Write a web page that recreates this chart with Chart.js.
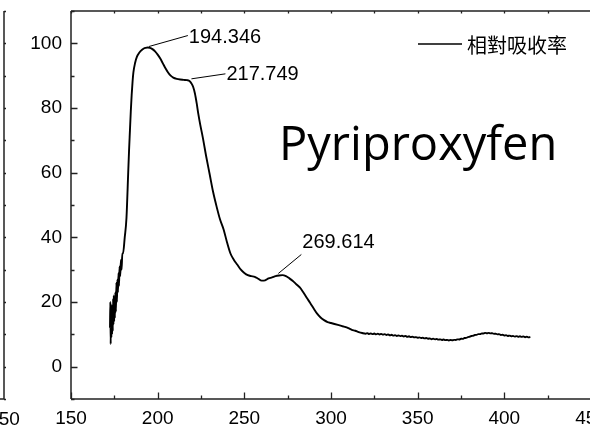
<!DOCTYPE html>
<html>
<head>
<meta charset="utf-8">
<script src="https://cdn.jsdelivr.net/npm/chart.js@4.4.1/dist/chart.umd.min.js"></script>
<style>
  html, body { margin: 0; padding: 0; background: #fff; overflow: hidden; width: 590px; height: 426px; }
  canvas { display: block; }
</style>
</head>
<body>
<canvas id="c" width="620" height="426"></canvas>
<script>
// ---- data ----
const seriesLabel = '相對吸收率';
const chartTitle = 'Pyriproxyfen';
const wavelengths = [
  172.5,172.7,172.9,173.1,173.3,173.5,173.7,173.9,174.1,174.3,174.5,174.7,174.9,175.1,175.3,175.6,175.9,176.2,176.5,176.8,177.1,177.4,177.7,178.0,178.4,178.8,179.2,179.6,
  180,181,182,183,183.5,184,184.5,185,185.5,186,187,188,189,190,191,192,193,194.3,195.5,197,198.5,200,201.5,203,204.5,206,207.5,209,211,213,215,217,218.5,219.5,220.5,221.5,222.5,223.5,224.5,226,228,230,232,234,236,238,240,242,244,246,248,250,252,254,256,258,260,262,264,266,268,270,272,274,276,278,280,282,284,286,288,290,292,294,296,298,300,302,304,306,308,310,312,314,316,318,320,
  321,322,323,324,325,326,327,328,329,330,331,332,333,334,335,336,337,338,339,340,341,342,343,344,345,346,347,348,349,350,351,352,353,354,355,356,357,358,359,360,361,362,363,364,365,366,367,368,369,370,371,372,373,374,375,376,377,378,379,380,381,382,383,384,385,386,387,388,389,390,391,392,393,394,395,396,397,398,399,400,401,402,403,404,405,406,407,408,409,410,411,412,413,414,415
];
const absorbance = [
  12,20,7,18,9,19,10,17,11,21,13,22,14,20,15,23,17,26,20,27,23,29,25,31,28,33,30,35,
  35,40,46,60,67,73,79,84,88,91,94,95.8,96.8,97.5,98,98.4,98.6,98.7,98.6,98.2,97.5,96.5,95.3,93.8,92.3,91,90,89.4,89,88.8,88.7,88.6,88.3,87.6,86.5,84.5,81.5,78,75,71,65,59.5,54,49.5,45.5,42.5,38.5,35,33,31.5,30,29,28.3,28,27.8,27.2,26.6,26.7,27.3,27.6,28,28.2,28.3,28,27.3,26.5,25.5,24.5,23,21.3,19.7,18,16.4,15.2,14.4,13.8,13.5,13.2,12.9,12.6,12.3,11.9,11.4,11.1,10.7,10.4,10.2,
  10.35,10.1,10.3,10.05,10.25,10.0,10.2,9.95,10.15,9.9,10.05,9.8,9.95,9.7,9.85,9.6,9.75,9.5,9.65,9.45,9.55,9.35,9.5,9.25,9.4,9.15,9.3,9.05,9.15,8.95,9.05,8.85,8.95,8.75,8.85,8.65,8.75,8.5,8.65,8.45,8.55,8.35,8.45,8.25,8.4,8.2,8.3,8.1,8.25,8.15,8.3,8.25,8.45,8.4,8.65,8.6,8.85,8.9,9.15,9.25,9.5,9.55,9.8,9.85,10.05,10.05,10.3,10.25,10.45,10.35,10.45,10.3,10.35,10.15,10.2,10.0,10.05,9.8,9.85,9.65,9.75,9.5,9.6,9.4,9.5,9.3,9.45,9.25,9.4,9.2,9.35,9.1,9.3,9.05,9.2
];
const peakX = [194.346, 217.749, 269.614];
const peakY = [98.7, 88.4, 28.2];
const peakLabels = ['194.346', '217.749', '269.614'];
const xTickMin = 150, xTickMax = 450, xMinorStep = 25, xMajorStep = 50;
const yTickMin = -10, yTickMax = 110, yMinorStep = 10, yMajorStep = 20;

// ---- styling / layout helpers ----
const AXIS = '#222';
const TICK_FAMILY = '"Liberation Sans", Arial, sans-serif';
// [lineEndDx, lineEndDy, lineStartDx, lineStartDy, textDy] in px
const labelOffsets = [[40, -12, 1, -1, 1.5], [37, -7, 3, -2, 1], [23, -21, 0, -2, -12]];

const decorPlugin = {
  id: 'decor',
  afterDraw(chart) {
    const ctx = chart.ctx, a = chart.chartArea;
    const xs = chart.scales.x, ys = chart.scales.y;
    ctx.save();
    ctx.strokeStyle = AXIS;
    ctx.lineWidth = 1.5;
    // frame
    ctx.beginPath();
    ctx.moveTo(a.left, a.top); ctx.lineTo(a.right, a.top);
    ctx.moveTo(a.left, a.bottom); ctx.lineTo(a.right, a.bottom);
    ctx.moveTo(a.left, a.top); ctx.lineTo(a.left, a.bottom);
    ctx.moveTo(a.right, a.top); ctx.lineTo(a.right, a.bottom);
    ctx.stroke();
    // inward ticks
    ctx.lineWidth = 1.3;
    ctx.beginPath();
    xs.ticks.forEach(t => {
      const px = Math.round(xs.getPixelForValue(t.value)) + 0.5;
      const major = t.value % xMajorStep === 0;
      ctx.moveTo(px, a.bottom); ctx.lineTo(px, a.bottom - (major ? 6.5 : 3.5));
      ctx.moveTo(px, a.top); ctx.lineTo(px, a.top + 2.5);
    });
    ys.ticks.forEach(t => {
      const py = Math.round(ys.getPixelForValue(t.value)) + 0.5;
      const major = t.value % yMajorStep === 0;
      ctx.moveTo(a.left, py); ctx.lineTo(a.left + (major ? 6.5 : 3.5), py);
      // neighbouring panel's axis on the far left
      ctx.moveTo(4, py); ctx.lineTo(6, py);
    });
    ctx.stroke();
    // neighbouring panel edge
    ctx.lineWidth = 1.5;
    ctx.beginPath();
    ctx.moveTo(4, a.top); ctx.lineTo(4, a.bottom); ctx.lineTo(0, a.bottom);
    ctx.stroke();
    ctx.fillStyle = '#000';
    ctx.font = '19px ' + TICK_FAMILY;
    ctx.textAlign = 'center';
    ctx.textBaseline = 'top';
    ctx.fillText('450', 4, a.bottom + 11);

    // peak annotations
    ctx.strokeStyle = '#000';
    ctx.lineWidth = 1;
    ctx.font = '20px ' + TICK_FAMILY;
    ctx.textAlign = 'left';
    ctx.textBaseline = 'middle';
    peakX.forEach((xv, i) => {
      const px = xs.getPixelForValue(xv), py = ys.getPixelForValue(peakY[i]);
      const o = labelOffsets[i];
      ctx.beginPath();
      ctx.moveTo(px + o[2], py + o[3]);
      ctx.lineTo(px + o[0], py + o[1]);
      ctx.stroke();
      ctx.fillText(peakLabels[i], px + o[0] + 1, py + o[1] + o[4]);
    });

    // legend
    ctx.lineWidth = 1.5;
    ctx.beginPath();
    ctx.moveTo(418, 44); ctx.lineTo(462, 44);
    ctx.stroke();
    ctx.font = '20px "Noto Sans CJK TC", "Noto Sans CJK SC", sans-serif';
    ctx.fillText(seriesLabel, 467, 45);

    // big title text
    ctx.font = '47px "Open Sans", "Noto Sans", sans-serif';
    ctx.textBaseline = 'alphabetic';
    ctx.fillText(chartTitle, 279, 160);
    ctx.restore();
  }
};

new Chart(document.getElementById('c'), {
  type: 'line',
  data: {
    datasets: [{
      label: seriesLabel,
      data: wavelengths.map((w, i) => ({ x: w, y: absorbance[i] })),
      borderColor: '#000',
      borderWidth: 1.9,
      pointRadius: 0,
      fill: false,
      tension: 0,
      cubicInterpolationMode: 'monotone'
    }]
  },
  options: {
    responsive: false,
    animation: false,
    devicePixelRatio: 1,
    layout: { padding: { top: 11, right: 29, left: 0, bottom: 0 } },
    plugins: { legend: { display: false }, tooltip: { enabled: false }, title: { display: false } },
    scales: {
      x: {
        type: 'linear', min: xTickMin, max: xTickMax,
        grid: { display: false, drawTicks: false },
        border: { display: false },
        ticks: {
          stepSize: xMinorStep, autoSkip: false, maxRotation: 0, padding: 8,
          color: '#000', font: { family: TICK_FAMILY, size: 19 },
          callback: v => (v % xMajorStep === 0 ? String(v) : '')
        },
        afterFit: s => { s.height = 27; s.paddingLeft = 0; s.paddingRight = 0; }
      },
      y: {
        min: yTickMin, max: yTickMax,
        grid: { display: false, drawTicks: false },
        border: { display: false },
        ticks: {
          stepSize: yMinorStep, autoSkip: false, padding: 9,
          color: '#000', font: { family: TICK_FAMILY, size: 19 },
          callback: v => (v % yMajorStep === 0 ? String(v) : '')
        },
        afterFit: s => { s.width = 71; s.paddingTop = 0; s.paddingBottom = 0; }
      }
    }
  },
  plugins: [decorPlugin]
});
</script>
</body>
</html>
